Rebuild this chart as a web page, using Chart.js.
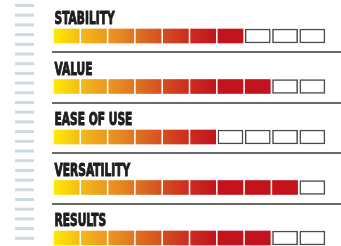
<!DOCTYPE html>
<html>
<head>
<meta charset="utf-8">
<script src="https://cdn.jsdelivr.net/npm/chart.js@4"></script>
<style>
  html, body { margin: 0; padding: 0; background: #fff; }
  #wrap { position: relative; width: 341px; height: 246px; }
</style>
</head>
<body>
<div id="wrap"><canvas id="rating"></canvas></div>
<script>
const categories = ['STABILITY', 'VALUE', 'EASE OF USE', 'VERSATILITY', 'RESULTS'];
const scores = [7, 8, 6, 9, 8];
const maxScore = 10;

const gap = 0.04; // gap between segments, in segment units

// one dataset per segment, floating bars [i+gap, i+1-gap] on every row
const datasets = [];
for (let seg = 0; seg < maxScore; seg++) {
  datasets.push({
    data: categories.map(() => [seg + gap, seg + 1 - gap]),
    backgroundColor: (ctx) => {
      if (seg >= scores[ctx.dataIndex]) return '#ffffff';
      const area = ctx.chart.chartArea;
      if (!area || !isFinite(area.left) || area.width <= 0) return '#c4141e';
      const x0 = area.left;
      const x1 = area.left + area.width * 0.6;
      const g = ctx.chart.ctx.createLinearGradient(x0, 0, x1, 0);
      g.addColorStop(0, '#ffec00');
      g.addColorStop(0.18, '#f3b71a');
      g.addColorStop(0.4, '#e68a22');
      g.addColorStop(0.62, '#d65a21');
      g.addColorStop(0.82, '#cb2e1f');
      g.addColorStop(1, '#c3131d');
      return g;
    },
    borderColor: (ctx) => seg >= scores[ctx.dataIndex] ? '#4a4a4a' : 'rgba(0,0,0,0)',
    borderWidth: (ctx) => seg >= scores[ctx.dataIndex] ? 1.5 : 0,
    borderSkipped: false,
    barThickness: 14,
    clip: false
  });
}

// labels, separators and the striped margin
const decor = {
  id: 'decor',
  beforeDraw(chart) {
    const c = chart.ctx;
    c.save();
    c.fillStyle = '#cfd9e2';
    for (let i = 0; i < 25; i++) {
      c.fillRect(15, 4 + i * 9.7, 19, 3);
    }
    c.restore();
  },
  afterDatasetsDraw(chart) {
    const c = chart.ctx;
    const y = chart.scales.y;
    const x = chart.scales.x;
    const left = x.getPixelForValue(gap);
    c.save();
    // separators between rows
    c.strokeStyle = '#6a6a6a';
    c.lineWidth = 2;
    for (let i = 0; i < categories.length - 1; i++) {
      const yy = Math.round(y.getPixelForValue(i) + 16);
      c.beginPath();
      c.moveTo(52, yy);
      c.lineTo(341, yy);
      c.stroke();
    }
    // row titles in a heavy condensed face
    c.font = 'bold 17px "Liberation Sans Narrow", "DejaVu Sans Condensed", "DejaVu Sans", sans-serif';
    c.fillStyle = '#1e1e1e';
    c.strokeStyle = '#1e1e1e';
    c.lineWidth = 1;
    c.lineJoin = 'round';
    c.textBaseline = 'alphabetic';
    const sx = 60 / c.measureText(categories[0]).width;
    categories.forEach((label, i) => {
      const base = y.getPixelForValue(i) - 12;
      c.save();
      c.translate(left + 0.5, base);
      c.scale(sx, 1);
      c.fillText(label, 0, 0);
      c.strokeText(label, 0, 0);
      c.restore();
    });
    c.restore();
  }
};

new Chart(document.getElementById('rating'), {
  type: 'bar',
  data: { labels: categories, datasets: datasets },
  options: {
    indexAxis: 'y',
    responsive: true,
    maintainAspectRatio: false,
    animation: false,
    layout: { padding: { left: 53, right: 15, top: 36, bottom: 8 } },
    plugins: { legend: { display: false }, tooltip: { enabled: false } },
    scales: {
      x: { type: 'linear', min: 0, max: maxScore, display: false, stacked: false },
      y: { type: 'category', offset: false, display: false, stacked: true }
    }
  },
  plugins: [decor]
});
</script>
</body>
</html>
